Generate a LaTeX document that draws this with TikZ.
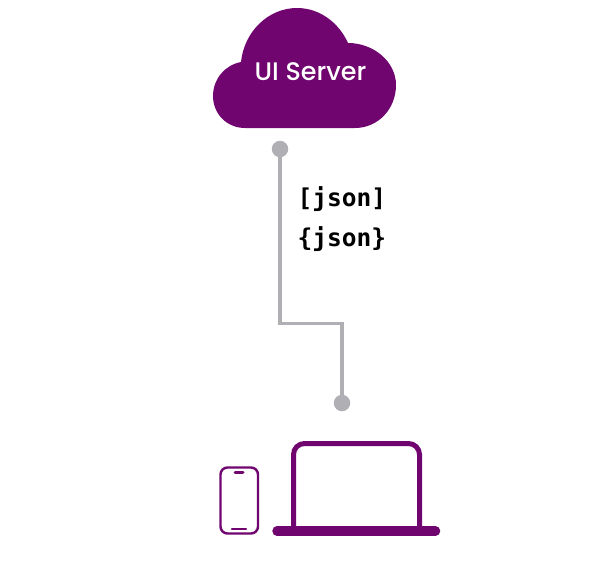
\documentclass[tikz,border=0pt]{standalone}
\usepackage{fontspec}
\usepackage{tikz}
\usetikzlibrary{calc,positioning}
\newfontfamily\cloudfont{Poppins Medium}
\newfontfamily\jsonfont{DejaVu Sans Mono}
\definecolor{plum}{HTML}{70056F}
\definecolor{wire}{HTML}{B0AFB3}
\tikzstyle{pin}=[circle, fill=wire, minimum width=16.5pt, inner sep=0pt]
\tikzstyle{wireline}=[draw=wire, line width=3.1pt]
\tikzstyle{json}=[anchor=west, inner sep=0pt, font=\jsonfont\bfseries\fontsize{24.5}{24.5}\selectfont]
\tikzstyle{device}=[draw=plum, fill=white, rounded corners=7pt]
\tikzstyle{bar}=[draw=plum, line cap=round]

\begin{document}
\begin{tikzpicture}[x=1pt,y=-1pt]
        \useasboundingbox (0,0) rectangle (593,573);
        % cloud
        \fill[plum] (245,128) .. controls (227,128) and (213,114) .. (213,96)
            .. controls (213,79) and (225,65) .. (241,62)
            .. controls (244,32) and (268,8) .. (297,8)
            .. controls (320,8) and (339,23) .. (348,43)
            .. controls (374,43) and (396,62) .. (396,85)
            .. controls (396,109) and (378,128) .. (355,128) -- cycle;
        \node[text=white, font=\cloudfont\fontsize{25.4}{25.4}\selectfont] (server) at (310.5,72) {UI Server};
        % connector
        \node[pin] (top) at (280,149) {};
        \node[pin] (bottom) at (342,403) {};
        \coordinate (bend) at (342,323.5);
        \draw[wireline] (top) |- (bend) -- (bottom);
        \node[json] (list) at (297.5,199) {[json]};
        \node[json] (object) at (297.5,239) {\{json\}};
        % phone
        \draw[device, line width=2.4pt] (220.5,467.5) rectangle (258,533.5);
        \draw[bar, line width=3pt] (235,472) -- (243,472);
        \draw[bar, line width=2.2pt] (232,529) -- (246,529);
        % laptop
        \draw[device, line width=5pt, rounded corners=11pt] (293.5,531) -- (293.5,443.5) -- (419.5,443.5) -- (419.5,531);
        \draw[bar, line width=9.5pt] (277,531) -- (435.5,531);
\end{tikzpicture}
\end{document}
